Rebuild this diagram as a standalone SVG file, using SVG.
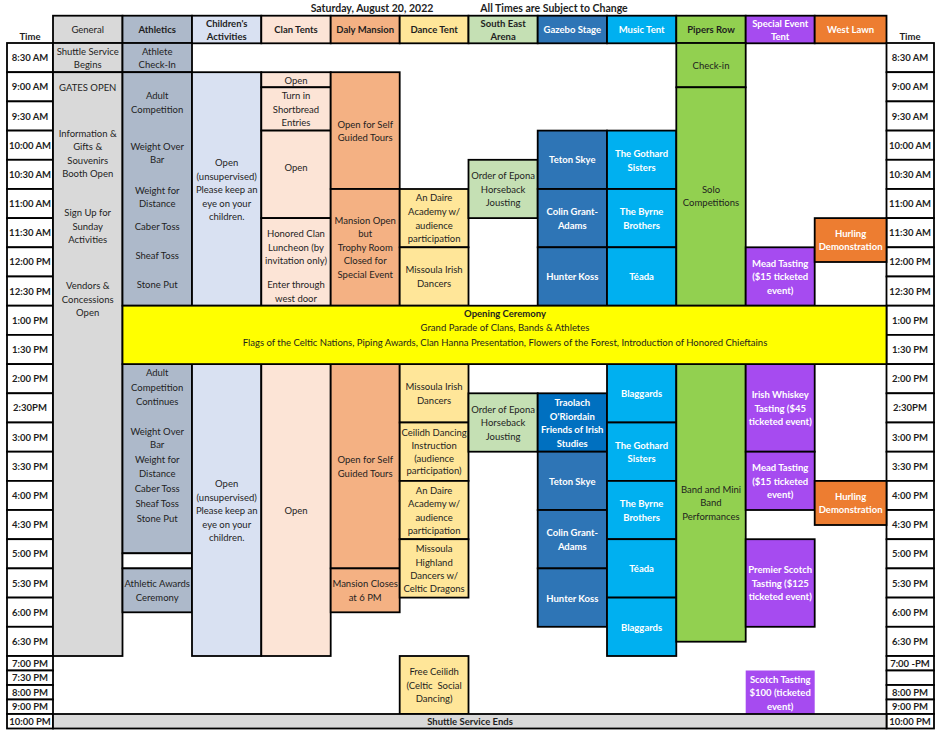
<svg xmlns="http://www.w3.org/2000/svg" width="939" height="734" viewBox="0 0 939 734">
<style>
rect{stroke:#000;stroke-width:1.8}
.nb{stroke:none}
.gen{fill:#d9d9d9}.ath{fill:#adb9ca}.chi{fill:#d9e1f2}.cla{fill:#fce4d6}.dal{fill:#f4b183}.dan{fill:#ffe699}
.sea{fill:#c5e0b4}.gaz{fill:#2e75b6}.gaz2{fill:#0070c0}.mus{fill:#00b0f0}.pip{fill:#92d050}.spe{fill:#a64bf0}.wes{fill:#ed7d31}
.yel{fill:#ffff00}.wh{fill:#fff}
text{font-family:Lato,"Liberation Sans",sans-serif;font-size:9.5px;text-anchor:middle;fill:#1e1e1e}
.b{font-weight:bold}
.w{fill:#fff;font-weight:bold}
.tm{font-weight:bold;font-size:9.5px}
</style>
<rect class="nb" x="0" y="0" width="939" height="734" fill="#fff"/>
<g id="title">
<text class="b" x="372" y="12" style="font-size:10.5px">Saturday, August 20, 2022</text>
<text class="b" x="554" y="12" style="font-size:10.5px">All Times are Subject to Change</text>
</g>
<g id="header">
<text class="b" x="30" y="40">Time</text>
<text class="b" x="910" y="40">Time</text>
<rect class="gen" x="53" y="15.7" width="69.5" height="27.6"/><text x="87.7" y="33">General</text>
<rect class="ath" x="122.5" y="15.7" width="69.5" height="27.6"/><text class="b" x="157.2" y="33">Athletics</text>
<rect class="chi" x="192" y="15.7" width="69.3" height="27.6"/><text class="b" x="226.7" y="27">Children's</text><text class="b" x="226.7" y="40">Activities</text>
<rect class="cla" x="261.3" y="15.7" width="69.4" height="27.6"/><text class="b" x="296" y="33">Clan Tents</text>
<rect class="dal" x="330.7" y="15.7" width="69" height="27.6"/><text class="b" x="365.2" y="33">Daly Mansion</text>
<rect class="dan" x="399.7" y="15.7" width="68.8" height="27.6"/><text class="b" x="434.1" y="33">Dance Tent</text>
<rect class="sea" x="468.5" y="15.7" width="69.2" height="27.6"/><text class="b" x="503.1" y="27">South East</text><text class="b" x="503.1" y="40">Arena</text>
<rect class="gaz" x="537.7" y="15.7" width="69.3" height="27.6"/><text class="w" x="572.3" y="33">Gazebo Stage</text>
<rect class="mus" x="607" y="15.7" width="69.3" height="27.6"/><text class="w" x="641.6" y="33">Music Tent</text>
<rect class="pip" x="676.3" y="15.7" width="69.4" height="27.6"/><text class="b" x="711" y="33">Pipers Row</text>
<rect class="spe" x="745.7" y="15.7" width="69" height="27.6"/><text class="w" x="780.2" y="27">Special Event</text><text class="w" x="780.2" y="40">Tent</text>
<rect class="wes" x="814.7" y="15.7" width="71.8" height="27.6"/><text class="w" x="850.6" y="33">West Lawn</text>
</g>
<g id="time-left">
<rect class="wh" x="7" y="43" width="46" height="29.2"/><text class="tm" x="30" y="61">8:30 AM</text>
<rect class="wh" x="7" y="72.2" width="46" height="29.2"/><text class="tm" x="30" y="90.3">9:00 AM</text>
<rect class="wh" x="7" y="101.4" width="46" height="29.2"/><text class="tm" x="30" y="119.5">9:30 AM</text>
<rect class="wh" x="7" y="130.6" width="46" height="29.2"/><text class="tm" x="30" y="148.7">10:00 AM</text>
<rect class="wh" x="7" y="159.8" width="46" height="29.2"/><text class="tm" x="30" y="177.9">10:30 AM</text>
<rect class="wh" x="7" y="189" width="46" height="29.1"/><text class="tm" x="30" y="207.1">11:00 AM</text>
<rect class="wh" x="7" y="218.1" width="46" height="29.2"/><text class="tm" x="30" y="236.2">11:30 AM</text>
<rect class="wh" x="7" y="247.3" width="46" height="29.2"/><text class="tm" x="30" y="265.4">12:00 PM</text>
<rect class="wh" x="7" y="276.5" width="46" height="29.2"/><text class="tm" x="30" y="294.6">12:30 PM</text>
<rect class="wh" x="7" y="305.7" width="46" height="29.2"/><text class="tm" x="30" y="323.8">1:00 PM</text>
<rect class="wh" x="7" y="334.9" width="46" height="29.2"/><text class="tm" x="30" y="353">1:30 PM</text>
<rect class="wh" x="7" y="364.1" width="46" height="29.2"/><text class="tm" x="30" y="382.2">2:00 PM</text>
<rect class="wh" x="7" y="393.3" width="46" height="29.2"/><text class="tm" x="30" y="411.4">2:30PM</text>
<rect class="wh" x="7" y="422.5" width="46" height="29.2"/><text class="tm" x="30" y="440.6">3:00 PM</text>
<rect class="wh" x="7" y="451.7" width="46" height="29.2"/><text class="tm" x="30" y="469.8">3:30 PM</text>
<rect class="wh" x="7" y="480.9" width="46" height="29.1"/><text class="tm" x="30" y="499">4:00 PM</text>
<rect class="wh" x="7" y="510" width="46" height="29.2"/><text class="tm" x="30" y="528.1">4:30 PM</text>
<rect class="wh" x="7" y="539.2" width="46" height="29.2"/><text class="tm" x="30" y="557.3">5:00 PM</text>
<rect class="wh" x="7" y="568.4" width="46" height="29.2"/><text class="tm" x="30" y="586.5">5:30 PM</text>
<rect class="wh" x="7" y="597.6" width="46" height="29.2"/><text class="tm" x="30" y="615.7">6:00 PM</text>
<rect class="wh" x="7" y="626.8" width="46" height="29.2"/><text class="tm" x="30" y="644.9">6:30 PM</text>
<rect class="wh" x="7" y="656" width="46" height="14.5"/><text class="tm" x="30" y="666.7">7:00 PM</text>
<rect class="wh" x="7" y="670.5" width="46" height="14.5"/><text class="tm" x="30" y="681.2">7:30 PM</text>
<rect class="wh" x="7" y="685" width="46" height="14.5"/><text class="tm" x="30" y="695.7">8:00 PM</text>
<rect class="wh" x="7" y="699.5" width="46" height="14.5"/><text class="tm" x="30" y="710.2">9:00 PM</text>
<rect class="wh" x="7" y="714" width="46" height="14.5"/><text class="tm" x="30" y="724.7">10:00 PM</text>
</g>
<g id="time-right">
<rect class="wh" x="886.5" y="43" width="47.5" height="29.2"/><text class="tm" x="910" y="61">8:30 AM</text>
<rect class="wh" x="886.5" y="72.2" width="47.5" height="29.2"/><text class="tm" x="910" y="90.3">9:00 AM</text>
<rect class="wh" x="886.5" y="101.4" width="47.5" height="29.2"/><text class="tm" x="910" y="119.5">9:30 AM</text>
<rect class="wh" x="886.5" y="130.6" width="47.5" height="29.2"/><text class="tm" x="910" y="148.7">10:00 AM</text>
<rect class="wh" x="886.5" y="159.8" width="47.5" height="29.2"/><text class="tm" x="910" y="177.9">10:30 AM</text>
<rect class="wh" x="886.5" y="189" width="47.5" height="29.1"/><text class="tm" x="910" y="207.1">11:00 AM</text>
<rect class="wh" x="886.5" y="218.1" width="47.5" height="29.2"/><text class="tm" x="910" y="236.2">11:30 AM</text>
<rect class="wh" x="886.5" y="247.3" width="47.5" height="29.2"/><text class="tm" x="910" y="265.4">12:00 PM</text>
<rect class="wh" x="886.5" y="276.5" width="47.5" height="29.2"/><text class="tm" x="910" y="294.6">12:30 PM</text>
<rect class="wh" x="886.5" y="305.7" width="47.5" height="29.2"/><text class="tm" x="910" y="323.8">1:00 PM</text>
<rect class="wh" x="886.5" y="334.9" width="47.5" height="29.2"/><text class="tm" x="910" y="353">1:30 PM</text>
<rect class="wh" x="886.5" y="364.1" width="47.5" height="29.2"/><text class="tm" x="910" y="382.2">2:00 PM</text>
<rect class="wh" x="886.5" y="393.3" width="47.5" height="29.2"/><text class="tm" x="910" y="411.4">2:30PM</text>
<rect class="wh" x="886.5" y="422.5" width="47.5" height="29.2"/><text class="tm" x="910" y="440.6">3:00 PM</text>
<rect class="wh" x="886.5" y="451.7" width="47.5" height="29.2"/><text class="tm" x="910" y="469.8">3:30 PM</text>
<rect class="wh" x="886.5" y="480.9" width="47.5" height="29.1"/><text class="tm" x="910" y="499">4:00 PM</text>
<rect class="wh" x="886.5" y="510" width="47.5" height="29.2"/><text class="tm" x="910" y="528.1">4:30 PM</text>
<rect class="wh" x="886.5" y="539.2" width="47.5" height="29.2"/><text class="tm" x="910" y="557.3">5:00 PM</text>
<rect class="wh" x="886.5" y="568.4" width="47.5" height="29.2"/><text class="tm" x="910" y="586.5">5:30 PM</text>
<rect class="wh" x="886.5" y="597.6" width="47.5" height="29.2"/><text class="tm" x="910" y="615.7">6:00 PM</text>
<rect class="wh" x="886.5" y="626.8" width="47.5" height="29.2"/><text class="tm" x="910" y="644.9">6:30 PM</text>
<rect class="wh" x="886.5" y="656" width="47.5" height="14.5"/><text class="tm" x="910" y="666.7">7:00 -PM</text>
<rect class="wh" x="886.5" y="670.5" width="47.5" height="14.5"/>
<rect class="wh" x="886.5" y="685" width="47.5" height="14.5"/><text class="tm" x="910" y="695.7">8:00 PM</text>
<rect class="wh" x="886.5" y="699.5" width="47.5" height="14.5"/><text class="tm" x="910" y="710.2">9:00 PM</text>
<rect class="wh" x="886.5" y="714" width="47.5" height="14.5"/><text class="tm" x="910" y="724.7">10:00 PM</text>
</g>
<g id="general">
<rect class="gen" x="53" y="43" width="69.5" height="29.2"/>
<text x="87.7" y="55">Shuttle Service</text><text x="87.7" y="68">Begins</text>
<rect class="gen" x="53" y="72.2" width="69.5" height="583.8"/>
<text x="87.7" y="90.5">GATES OPEN</text>
<text x="87.7" y="136.5">Information &amp;</text><text x="87.7" y="149.5">Gifts &amp;</text><text x="87.7" y="163.5">Souvenirs</text><text x="87.7" y="176.5">Booth Open</text>
<text x="87.7" y="215.5">Sign Up for</text><text x="87.7" y="229.5">Sunday</text><text x="87.7" y="242.5">Activities</text>
<text x="87.7" y="288.5">Vendors &amp;</text><text x="87.7" y="302.5">Concessions</text><text x="87.7" y="315.5">Open</text>
</g>
<g id="athletics">
<rect class="ath" x="122.5" y="43" width="69.5" height="29.2"/>
<text x="157.2" y="55">Athlete</text><text x="157.2" y="68">Check-In</text>
<rect class="ath" x="122.5" y="72.2" width="69.5" height="233.5"/>
<text x="157.2" y="98.5">Adult</text><text x="157.2" y="112.5">Competition</text>
<text x="157.2" y="149.5">Weight Over</text><text x="157.2" y="163">Bar</text>
<text x="157.2" y="193.5">Weight for</text><text x="157.2" y="206.5">Distance</text>
<text x="157.2" y="229.8">Caber Toss</text><text x="157.2" y="258.5">Sheaf Toss</text><text x="157.2" y="287.5">Stone Put</text>
<rect class="ath" x="122.5" y="364.1" width="69.5" height="189.2"/>
<text x="157.2" y="375.5">Adult</text><text x="157.2" y="390.5">Competition</text><text x="157.2" y="405">Continues</text>
<text x="157.2" y="434.5">Weight Over</text><text x="157.2" y="447.5">Bar</text>
<text x="157.2" y="462.5">Weight for</text><text x="157.2" y="477">Distance</text>
<text x="157.2" y="492">Caber Toss</text><text x="157.2" y="507">Sheaf Toss</text><text x="157.2" y="521.5">Stone Put</text>
<rect class="wh" x="122.5" y="553.3" width="69.5" height="15.1"/>
<rect class="ath" x="122.5" y="568.4" width="69.5" height="43.9"/>
<text x="157.2" y="587">Athletic Awards</text><text x="157.2" y="600.5">Ceremony</text>
</g>
<g id="childrens">
<rect class="chi" x="192" y="72.2" width="69.3" height="233.5"/>
<text x="226.7" y="165.5">Open</text><text x="226.7" y="179.5">(unsupervised)</text><text x="226.7" y="192.5">Please keep an</text><text x="226.7" y="206.5">eye on your</text><text x="226.7" y="219.5">children.</text>
<rect class="chi" x="192" y="364.1" width="69.3" height="291.9"/>
<text x="226.7" y="487">Open</text><text x="226.7" y="500.5">(unsupervised)</text><text x="226.7" y="514">Please keep an</text><text x="226.7" y="527.5">eye on your</text><text x="226.7" y="540.5">children.</text>
</g>
<g id="clan-tents">
<rect class="cla" x="261.3" y="72.2" width="69.4" height="15.1"/><text x="296" y="83.5">Open</text>
<rect class="cla" x="261.3" y="87.3" width="69.4" height="43.3"/>
<text x="296" y="99">Turn in</text><text x="296" y="112.5">Shortbread</text><text x="296" y="125.5">Entries</text>
<rect class="cla" x="261.3" y="130.6" width="69.4" height="87.5"/><text x="296" y="171">Open</text>
<rect class="cla" x="261.3" y="218.1" width="69.4" height="87.6"/>
<text x="296" y="236.8">Honored Clan</text><text x="296" y="251">Luncheon (by</text><text x="296" y="264">invitation only)</text>
<text x="296" y="287.8">Enter through</text><text x="296" y="301.5">west door</text>
<rect class="cla" x="261.3" y="364.1" width="69.4" height="291.9"/><text x="296" y="513.5">Open</text>
</g>
<g id="daly-mansion">
<rect class="dal" x="330.7" y="72.2" width="69" height="116.8"/>
<text x="365.2" y="127.5">Open for Self</text><text x="365.2" y="140.8">Guided Tours</text>
<rect class="dal" x="330.7" y="189" width="69" height="116.7"/>
<text x="365.2" y="224">Mansion Open</text><text x="365.2" y="237">but</text><text x="365.2" y="251">Trophy Room</text><text x="365.2" y="264">Closed for</text><text x="365.2" y="277.8">Special Event</text>
<rect class="dal" x="330.7" y="364.1" width="69" height="204.3"/>
<text x="365.2" y="462.8">Open for Self</text><text x="365.2" y="476.8">Guided Tours</text>
<rect class="dal" x="330.7" y="568.4" width="69" height="43.9"/>
<text x="365.2" y="587">Mansion Closes</text><text x="365.2" y="600.5">at 6 PM</text>
</g>
<g id="dance-tent">
<rect class="dan" x="399.7" y="189" width="68.8" height="58.3"/>
<text x="434.1" y="201">An Daire</text><text x="434.1" y="215">Academy w/</text><text x="434.1" y="228.5">audience</text><text x="434.1" y="242">participation</text>
<rect class="dan" x="399.7" y="247.3" width="68.8" height="58.4"/>
<text x="434.1" y="272.8">Missoula Irish</text><text x="434.1" y="286.8">Dancers</text>
<rect class="dan" x="399.7" y="364.1" width="68.8" height="58.4"/>
<text x="434.1" y="390">Missoula Irish</text><text x="434.1" y="403.5">Dancers</text>
<rect class="dan" x="399.7" y="422.5" width="68.8" height="58.4"/>
<text x="434.1" y="436">Ceilidh Dancing</text><text x="434.1" y="449">Instruction</text><text x="434.1" y="461.5">(audience</text><text x="434.1" y="474">participation)</text>
<rect class="dan" x="399.7" y="480.9" width="68.8" height="58.3"/>
<text x="434.1" y="494">An Daire</text><text x="434.1" y="507">Academy w/</text><text x="434.1" y="520.5">audience</text><text x="434.1" y="533.8">participation</text>
<rect class="dan" x="399.7" y="539.2" width="68.8" height="58.4"/>
<text x="434.1" y="551.8">Missoula</text><text x="434.1" y="565.5">Highland</text><text x="434.1" y="578.5">Dancers w/</text><text x="434.1" y="592">Celtic Dragons</text>
<rect class="dan" x="399.7" y="656" width="68.8" height="58"/>
<text x="434.1" y="675">Free Ceilidh</text><text x="434.1" y="688.8" xml:space="preserve">(Celtic  Social</text><text x="434.1" y="702">Dancing)</text>
</g>
<g id="south-east-arena">
<rect class="sea" x="468.5" y="159.8" width="69.2" height="58.3"/>
<text x="503.1" y="179">Order of Epona</text><text x="503.1" y="192.5">Horseback</text><text x="503.1" y="206">Jousting</text>
<rect class="sea" x="468.5" y="393.3" width="69.2" height="58.4"/>
<text x="503.1" y="412.5">Order of Epona</text><text x="503.1" y="426">Horseback</text><text x="503.1" y="439.5">Jousting</text>
</g>
<g id="gazebo-stage">
<rect class="gaz" x="537.7" y="130.6" width="69.3" height="58.4"/><text class="w" x="572.3" y="162.8">Teton Skye</text>
<rect class="gaz" x="537.7" y="189" width="69.3" height="58.3"/><text class="w" x="572.3" y="215">Colin Grant-</text><text class="w" x="572.3" y="228.5">Adams</text>
<rect class="gaz" x="537.7" y="247.3" width="69.3" height="58.4"/><text class="w" x="572.3" y="280">Hunter Koss</text>
<rect class="gaz2" x="537.7" y="393.3" width="69.3" height="58.4"/>
<text class="w" x="572.3" y="406">Traolach</text><text class="w" x="572.3" y="419.8">O'Riordain</text><text class="w" x="572.3" y="432.8">Friends of Irish</text><text class="w" x="572.3" y="446.5">Studies</text>
<rect class="gaz" x="537.7" y="451.7" width="69.3" height="58.3"/><text class="w" x="572.3" y="484.5">Teton Skye</text>
<rect class="gaz" x="537.7" y="510" width="69.3" height="58.4"/><text class="w" x="572.3" y="536">Colin Grant-</text><text class="w" x="572.3" y="550">Adams</text>
<rect class="gaz" x="537.7" y="568.4" width="69.3" height="58.4"/><text class="w" x="572.3" y="601.5">Hunter Koss</text>
</g>
<g id="music-tent">
<rect class="mus" x="607" y="130.6" width="69.3" height="58.4"/><text class="w" x="641.6" y="156.5">The Gothard</text><text class="w" x="641.6" y="170.5">Sisters</text>
<rect class="mus" x="607" y="189" width="69.3" height="58.3"/><text class="w" x="641.6" y="215">The Byrne</text><text class="w" x="641.6" y="228.5">Brothers</text>
<rect class="mus" x="607" y="247.3" width="69.3" height="58.4"/><text class="w" x="641.6" y="280">Téada</text>
<rect class="mus" x="607" y="364.1" width="69.3" height="58.4"/><text class="w" x="641.6" y="396.8">Blaggards</text>
<rect class="mus" x="607" y="422.5" width="69.3" height="58.4"/><text class="w" x="641.6" y="448.8">The Gothard</text><text class="w" x="641.6" y="462">Sisters</text>
<rect class="mus" x="607" y="480.9" width="69.3" height="58.3"/><text class="w" x="641.6" y="506.8">The Byrne</text><text class="w" x="641.6" y="520.8">Brothers</text>
<rect class="mus" x="607" y="539.2" width="69.3" height="58.4"/><text class="w" x="641.6" y="572">Téada</text>
<rect class="mus" x="607" y="597.6" width="69.3" height="58.4"/><text class="w" x="641.6" y="630.5">Blaggards</text>
</g>
<g id="pipers-row">
<rect class="pip" x="676.3" y="43" width="69.4" height="44.3"/><text x="711" y="68.5">Check-in</text>
<rect class="pip" x="676.3" y="87.3" width="69.4" height="218.4"/><text x="711" y="193">Solo</text><text x="711" y="206">Competitions</text>
<rect class="pip" x="676.3" y="364.1" width="69.4" height="277.6"/>
<text x="711" y="492.5">Band and Mini</text><text x="711" y="506">Band</text><text x="711" y="519.8">Performances</text>
</g>
<g id="special-event-tent">
<rect class="spe" x="745.7" y="247.3" width="69" height="58.4"/>
<text class="w" x="780.2" y="266.5">Mead Tasting</text><text class="w" x="780.2" y="280">($15 ticketed</text><text class="w" x="780.2" y="293.5">event)</text>
<rect class="spe" x="745.7" y="364.1" width="69" height="87.6"/>
<text class="w" x="780.2" y="397.8">Irish Whiskey</text><text class="w" x="780.2" y="411.5">Tasting ($45</text><text class="w" x="780.2" y="424.5">ticketed event)</text>
<rect class="spe" x="745.7" y="451.7" width="69" height="58.3"/>
<text class="w" x="780.2" y="471">Mead Tasting</text><text class="w" x="780.2" y="484.8">($15 ticketed</text><text class="w" x="780.2" y="497.5">event)</text>
<rect class="spe" x="745.7" y="539.2" width="69" height="87.6"/>
<text class="w" x="780.2" y="572.8">Premier Scotch</text><text class="w" x="780.2" y="586.5">Tasting ($125</text><text class="w" x="780.2" y="599.5">ticketed event)</text>
<rect class="spe nb" x="745.7" y="670.5" width="69" height="43.5"/>
<text class="w" x="780.2" y="682.8">Scotch Tasting</text><text class="w" x="780.2" y="695.8">$100 (ticketed</text><text class="w" x="780.2" y="709.5">event)</text>
</g>
<g id="west-lawn">
<rect class="wes" x="814.7" y="218.1" width="71.8" height="43.9"/>
<text class="w" x="850.6" y="236.8">Hurling</text><text class="w" x="850.6" y="250">Demonstration</text>
<rect class="wes" x="814.7" y="480.9" width="71.8" height="44.1"/>
<text class="w" x="850.6" y="499.5">Hurling</text><text class="w" x="850.6" y="513">Demonstration</text>
</g>
<g id="opening-ceremony">
<rect class="yel" x="122.5" y="305.7" width="764" height="58.4"/>
<text class="b" x="505" y="316.5">Opening Ceremony</text>
<text x="505" y="330.5">Grand Parade of Clans, Bands &amp; Athletes</text>
<text x="505" y="345.5">Flags of the Celtic Nations, Piping Awards, Clan Hanna Presentation, Flowers of the Forest, Introduction of Honored Chieftains</text>
</g>
<g id="shuttle-ends">
<rect class="gen" x="53" y="714" width="833.5" height="14.5"/>
<text class="b" x="470" y="725">Shuttle Service Ends</text>
</g>
<g id="connectors"/>
</svg>
